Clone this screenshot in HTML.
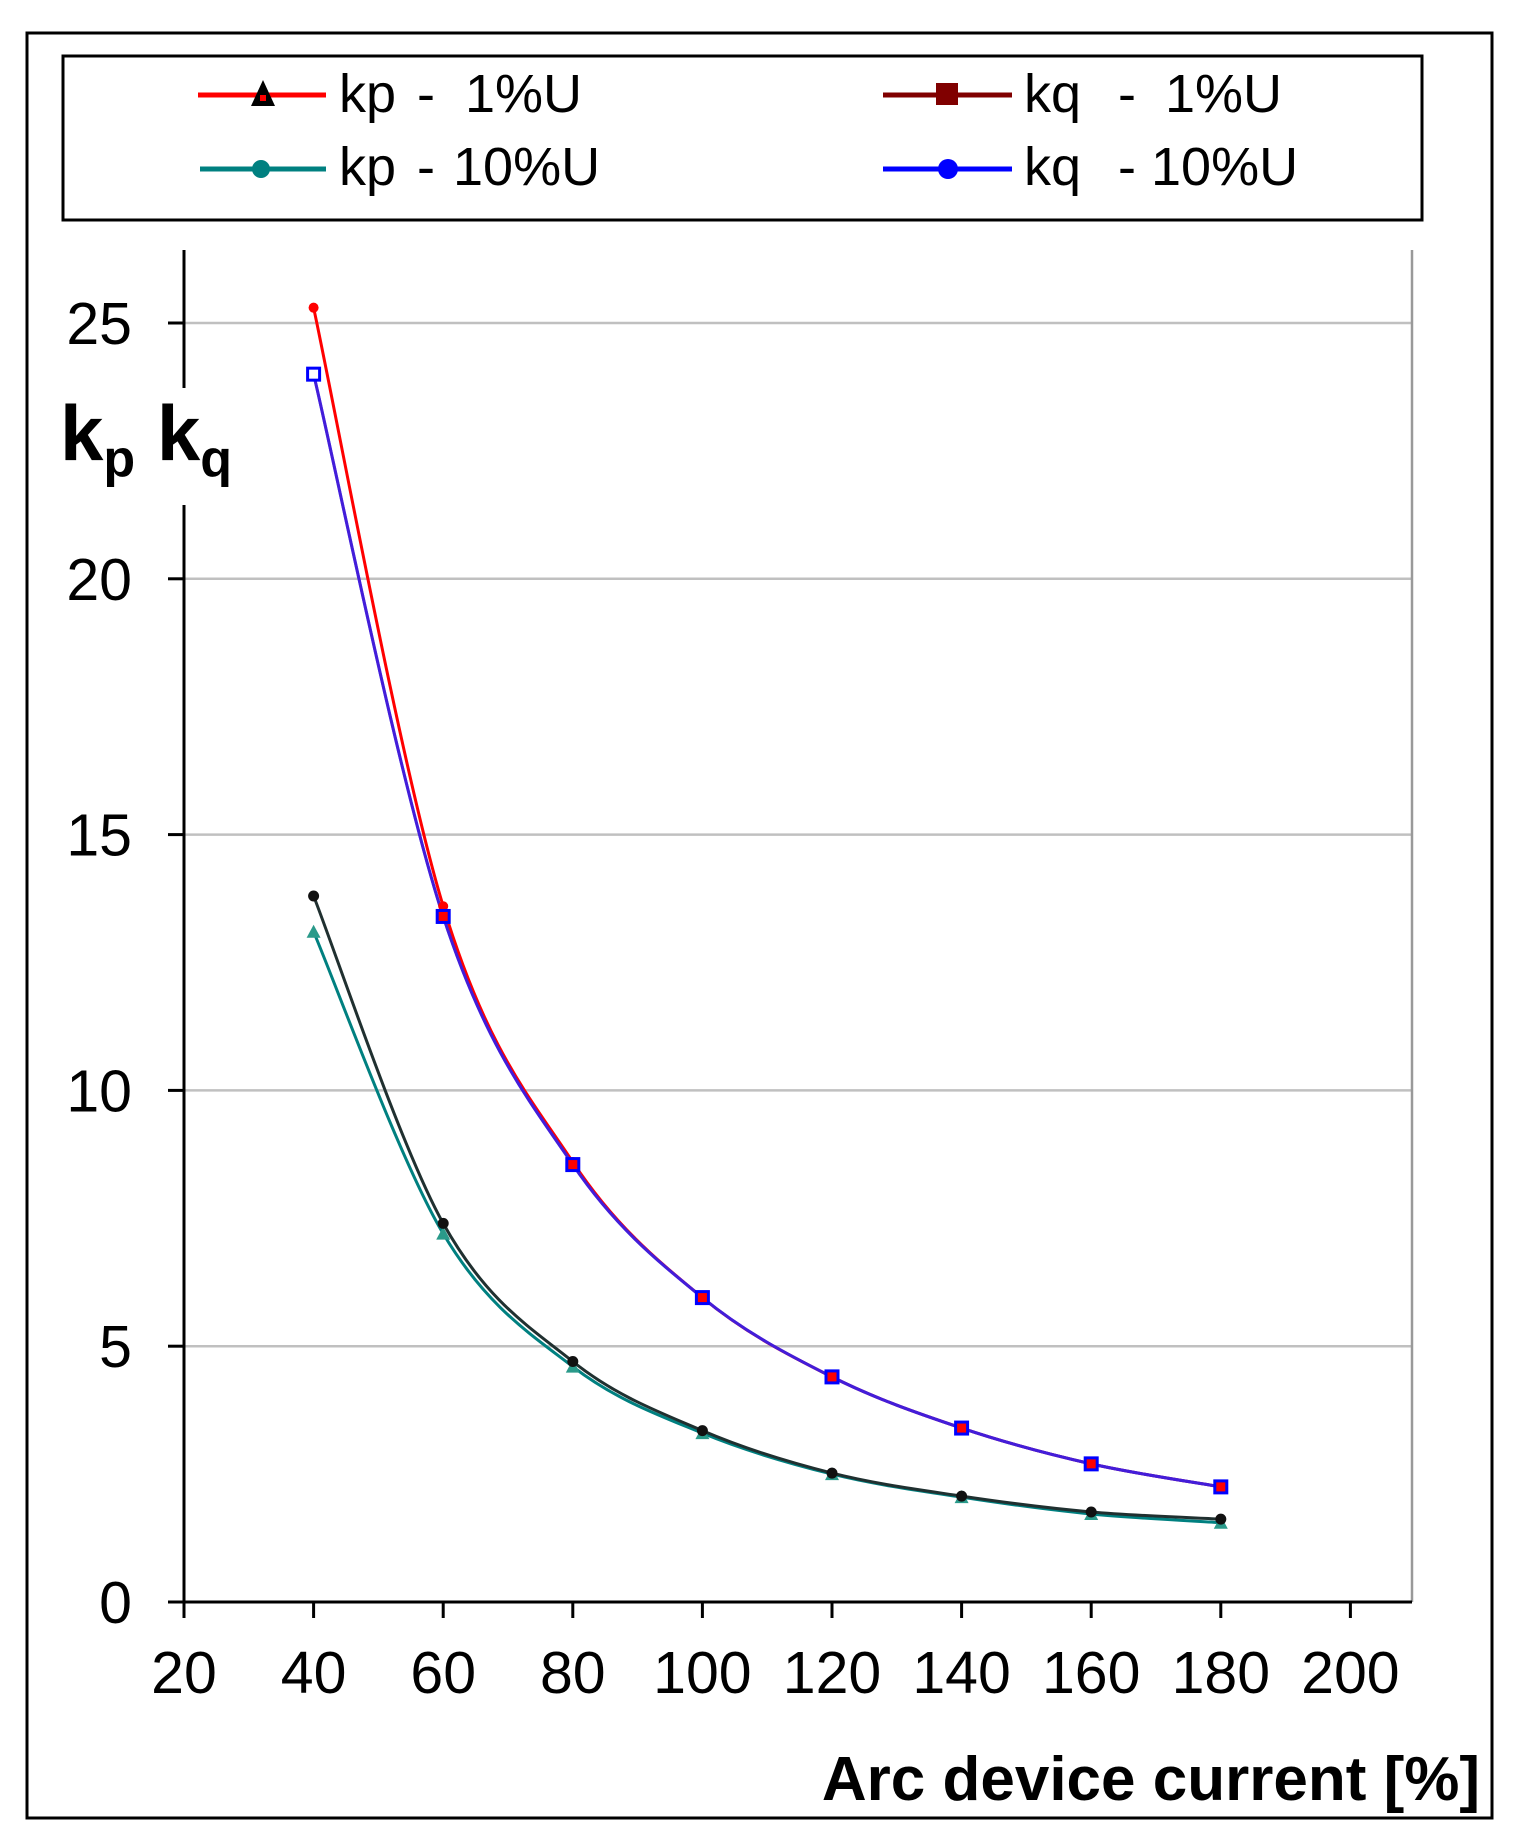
<!DOCTYPE html>
<html><head><meta charset="utf-8"><style>
body{margin:0;background:#fff;}
svg{display:block;font-family:"Liberation Sans",Arial,sans-serif;}
</style></head><body>
<svg id="s" width="1532" height="1846" viewBox="0 0 1532 1846">
<rect x="0" y="0" width="1532" height="1846" fill="#fff"/>
<rect x="27" y="33" width="1465" height="1785" fill="none" stroke="#000" stroke-width="3"/>
<rect x="63" y="56" width="1359" height="164" fill="none" stroke="#000" stroke-width="3"/>
<!-- legend -->
<line x1="198" y1="95" x2="326" y2="95" stroke="#f00" stroke-width="5"/>
<polygon points="263,80 251,106 275,106" fill="#000"/><rect x="260" y="95" width="6" height="6" fill="#f00"/>
<g font-size="54">
<text x="339" y="112">kp</text><text x="417" y="112">-</text><text x="465" y="112">1%U</text>
<text x="339" y="185">kp</text><text x="417" y="185">-</text><text x="453" y="185">10%U</text>
<text x="1024" y="112">kq</text><text x="1118" y="112">-</text><text x="1165" y="112">1%U</text>
<text x="1024" y="185">kq</text><text x="1118" y="185">-</text><text x="1151" y="185">10%U</text>
</g>
<line x1="200" y1="169" x2="326" y2="169" stroke="#008080" stroke-width="5"/>
<circle cx="261" cy="169" r="9" fill="#008080"/>
<line x1="883" y1="95" x2="1012" y2="95" stroke="#800000" stroke-width="5"/>
<rect x="936" y="83" width="22" height="22" fill="#800000"/>
<line x1="883" y1="169" x2="1012" y2="169" stroke="#00f" stroke-width="5"/>
<circle cx="948" cy="169" r="10" fill="#00f"/>
<g id="g"></g>
<!-- y label -->
<text x="60" y="460" font-size="78" font-weight="bold">k<tspan font-size="52" dy="16">p</tspan><tspan dy="-16"> k</tspan><tspan font-size="52" dy="16">q</tspan></text>
<text x="1480" y="1800" font-size="62" font-weight="bold" text-anchor="end">Arc device current [%]</text>
</svg>
<script>
const NS="http://www.w3.org/2000/svg",g=document.getElementById('g');
const X=v=>184+(v-20)*129.6/20, Y=v=>1602-v*51.16;
function el(t,a,txt){const e=document.createElementNS(NS,t);for(const k in a)e.setAttribute(k,a[k]);if(txt!=null)e.textContent=txt;g.appendChild(e);return e;}
for(let v=5;v<=25;v+=5)el('line',{x1:184,y1:Y(v),x2:1412,y2:Y(v),stroke:'#c0c0c0','stroke-width':2.5});
el('line',{x1:1412,y1:250,x2:1412,y2:1602,stroke:'#999','stroke-width':2.5});
el('line',{x1:184,y1:250,x2:184,y2:388,stroke:'#000','stroke-width':3});
el('line',{x1:184,y1:505,x2:184,y2:1602,stroke:'#000','stroke-width':3});
el('line',{x1:184,y1:1602,x2:1412,y2:1602,stroke:'#000','stroke-width':3});
for(let v=0;v<=25;v+=5){el('line',{x1:168,y1:Y(v),x2:184,y2:Y(v),stroke:'#000','stroke-width':3});
 el('text',{x:132,y:Y(v)+21,'font-size':59,'text-anchor':'end'},v);}
for(let v=20;v<=200;v+=20){el('line',{x1:X(v),y1:1602,x2:X(v),y2:1618,stroke:'#000','stroke-width':3});
 el('text',{x:X(v),y:1693,'font-size':59,'text-anchor':'middle'},v);}
const xs=[40,60,80,100,120,140,160,180];
function path(d){const p=d.map((v,i)=>[X(xs[i]),Y(v)]);let s=`M${p[0]}`;
 for(let i=0;i<p.length-1;i++){const p0=p[i-1]||p[i],p1=p[i],p2=p[i+1],p3=p[i+2]||p2;
 s+=` C${p1[0]+(p2[0]-p0[0])/6},${p1[1]+(p2[1]-p0[1])/6} ${p2[0]-(p3[0]-p1[0])/6},${p2[1]-(p3[1]-p1[1])/6} ${p2[0]},${p2[1]}`;}return s;}
const kp1=[25.3,13.6,8.6,5.95,4.4,3.4,2.7,2.25],kq10=[24.0,13.4,8.55,5.95,4.4,3.4,2.7,2.25];
const kp10=[13.1,7.2,4.6,3.3,2.5,2.05,1.72,1.55],kq1=[13.8,7.4,4.7,3.35,2.52,2.07,1.76,1.62];
el('path',{d:path(kp1),fill:'none',stroke:'#f00','stroke-width':3});
el('path',{d:path(kq10),fill:'none',stroke:'#00f','stroke-width':3});
el('path',{d:path(kq10),fill:'none',stroke:'#7030c0','stroke-width':3,opacity:.6});
el('path',{d:path(kp10),fill:'none',stroke:'#008080','stroke-width':3});
el('path',{d:path(kq1),fill:'none',stroke:'#203030','stroke-width':3});
xs.forEach((x,i)=>{
 el('circle',{cx:X(x),cy:Y(kp1[i]),r:5,fill:'#f00'});
 el('rect',{x:X(x)-6,y:Y(kq10[i])-6,width:12,height:12,fill:i==0?'#fff':'#f00',stroke:'#00f','stroke-width':3});
 const a=X(x),b=Y(kp10[i]);el('polygon',{points:`${a},${b-7} ${a-7},${b+6} ${a+7},${b+6}`,fill:'#2a9a8a'});
 el('circle',{cx:X(x),cy:Y(kq1[i]),r:5.5,fill:'#111'});
});
</script>
</body></html>
